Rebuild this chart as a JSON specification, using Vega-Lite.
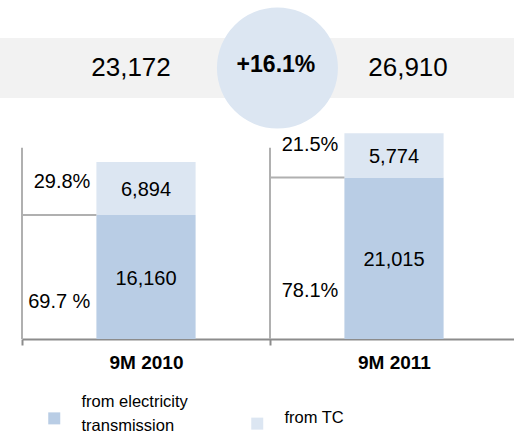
{
  "$schema": "https://vega.github.io/schema/vega-lite/v6.json",
  "width": 514,
  "height": 339,
  "autosize": "none",
  "padding": {"left": 0, "top": 0, "right": 0, "bottom": 96},
  "background": "white",
  "config": {
    "view": {"stroke": null},
    "font": "Liberation Sans"
  },
  "resolve": {"axis": {"x": "independent"}},
  "datasets": {
    "segments": [
      {"period": "9M 2010", "component": "from electricity transmission", "value": 16160, "share": "69.7 %"},
      {"period": "9M 2010", "component": "from TC", "value": 6894, "share": "29.8%"},
      {"period": "9M 2011", "component": "from electricity transmission", "value": 21015, "share": "78.1%"},
      {"period": "9M 2011", "component": "from TC", "value": 5774, "share": "21.5%"}
    ],
    "totals": [
      {"period": "9M 2010", "total": 23172},
      {"period": "9M 2011", "total": 26910}
    ],
    "change": [{"change": "+16.1%"}]
  },
  "layer": [
    {
      "data": {"name": "segments"},
      "mark": {"type": "bar", "width": {"band": 0.4}},
      "encoding": {
        "x": {
          "field": "period", "type": "nominal",
          "scale": {"domain": ["9M 2010", "9M 2011"], "range": [22, 518], "paddingInner": 0, "paddingOuter": 0},
          "axis": {
            "title": null, "tickBand": "extent", "domainColor": "#8c8c8c", "domainWidth": 2,
            "tickColor": "#8c8c8c", "tickWidth": 2, "tickSize": 6, "labelFontSize": 19,
            "labelFontWeight": "bold", "labelColor": "#000000", "labelPadding": 8, "labelAngle": 0, "grid": false
          }
        },
        "y": {"field": "value", "type": "quantitative", "stack": "zero", "scale": {"domain": [0, 44140], "nice": false}, "axis": null},
        "color": {
          "field": "component", "type": "nominal",
          "scale": {"domain": ["from electricity transmission", "from TC"], "range": ["#b9cde5", "#dce6f2"]},
          "legend": {
            "orient": "none", "legendX": 46, "legendY": 410, "direction": "horizontal", "title": null,
            "symbolType": "square", "symbolSize": 144, "symbolStrokeWidth": 0, "symbolOpacity": 1,
            "labelFontSize": 16.5, "labelColor": "#000000", "labelOffset": 19, "columnPadding": 61,
            "labelLimit": 300, "padding": 0,
            "labelExpr": "datum.label === 'from electricity transmission' ? ['from electricity', 'transmission'] : datum.label",
            "encoding": {
              "labels": {
                "lineHeight": {"value": 24},
                "dy": {"value": {"expr": "datum.label === 'from TC' ? -6 : -16"}}
              }
            }
          }
        },
        "order": {"field": "component", "sort": "descending"}
      }
    },
    {
      "data": {"name": "change"},
      "mark": {"type": "rect", "color": "#f2f2f2"},
      "encoding": {
        "x": {"datum": "9M 2010", "type": "nominal", "bandPosition": -0.0887, "axis": null},
        "x2": {"datum": "9M 2011", "bandPosition": 1},
        "y": {"datum": 39192, "type": "quantitative", "axis": null},
        "y2": {"datum": 31380}
      }
    },
    {
      "data": {"name": "change"},
      "mark": {"type": "circle", "color": "#dce6f2", "opacity": 1, "size": 14641},
      "encoding": {
        "x": {"datum": "9M 2011", "type": "nominal", "bandPosition": 0.03, "axis": null},
        "y": {"datum": 35286, "type": "quantitative", "axis": null}
      }
    },
    {
      "data": {"name": "change"},
      "mark": {"type": "text", "fontSize": 23, "fontWeight": "bold", "color": "#000000", "baseline": "middle"},
      "encoding": {
        "x": {"datum": "9M 2011", "type": "nominal", "bandPosition": 0.024, "axis": null},
        "y": {"datum": 35677, "type": "quantitative", "axis": null},
        "text": {"field": "change"}
      }
    },
    {
      "data": {"name": "totals"},
      "mark": {"type": "text", "fontSize": 26, "color": "#000000", "baseline": "middle", "dx": {"expr": "datum.period === '9M 2010' ? -15 : 14"}},
      "encoding": {
        "x": {"field": "period", "type": "nominal", "axis": null},
        "y": {"datum": 35286, "type": "quantitative", "axis": null},
        "text": {"field": "total", "format": ","}
      }
    },
    {
      "data": {"name": "segments"},
      "mark": {"type": "text", "fontSize": 20, "color": "#000000", "baseline": "middle", "dy": 2},
      "encoding": {
        "x": {"field": "period", "type": "nominal", "axis": null},
        "y": {"field": "value", "type": "quantitative", "stack": "zero", "bandPosition": 0.5, "axis": null},
        "order": {"field": "component", "sort": "descending"},
        "text": {"field": "value", "format": ","}
      }
    },
    {
      "data": {"name": "totals"},
      "mark": {"type": "rule", "color": "#b0b0b0", "strokeWidth": 2},
      "encoding": {
        "x": {"field": "period", "type": "nominal", "bandPosition": 0, "axis": null},
        "y": {"datum": 0, "type": "quantitative", "axis": null},
        "y2": {"datum": 24900}
      }
    },
    {
      "data": {"name": "segments"},
      "transform": [{"filter": "datum.component === 'from electricity transmission'"}],
      "mark": {"type": "rule", "color": "#b0b0b0", "strokeWidth": 2},
      "encoding": {
        "x": {"field": "period", "type": "nominal", "bandPosition": 0, "axis": null},
        "x2": {"field": "period", "bandPosition": 0.3},
        "y": {"field": "value", "type": "quantitative", "axis": null}
      }
    },
    {
      "data": {"name": "segments"},
      "transform": [{"filter": "datum.component === 'from electricity transmission'"}],
      "mark": {"type": "text", "align": "right", "baseline": "middle", "fontSize": 20, "color": "#000000", "dx": -6},
      "encoding": {
        "x": {"field": "period", "type": "nominal", "bandPosition": 0.3, "axis": null},
        "y": {"field": "value", "type": "quantitative", "stack": "zero", "bandPosition": 0.3, "axis": null},
        "text": {"field": "share"}
      }
    },
    {
      "data": {"name": "segments"},
      "transform": [
        {"stack": "value", "groupby": ["period"], "sort": [{"field": "component", "order": "descending"}], "as": ["v0", "v1"]},
        {"filter": "datum.component === 'from TC'"}
      ],
      "mark": {"type": "text", "align": "right", "baseline": "middle", "fontSize": 20, "color": "#000000", "dx": -6, "dy": -33},
      "encoding": {
        "x": {"field": "period", "type": "nominal", "bandPosition": 0.3, "axis": null},
        "y": {"field": "v0", "type": "quantitative", "axis": null},
        "text": {"field": "share"}
      }
    }
  ]
}
